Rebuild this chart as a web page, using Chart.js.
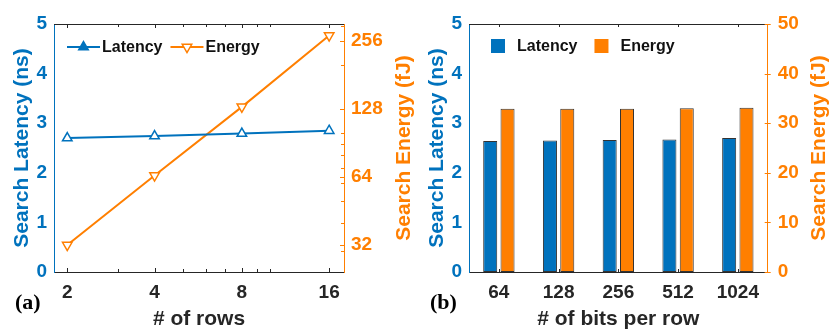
<!DOCTYPE html>
<html><head><meta charset="utf-8">
<script src="https://cdn.jsdelivr.net/npm/chart.js@4.4.1/dist/chart.umd.min.js"></script>
<style>html,body{margin:0;padding:0;background:#fff;} #wrap{display:flex;width:830px;height:332px;} canvas{display:block;}</style>
</head><body><div id="wrap"><canvas id="ca" width="415" height="332"></canvas><canvas id="cb" width="415" height="332"></canvas></div>
<script>
// ---- data ----
const rows = [2, 4, 8, 16];
const rowLatency = [2.70, 2.74, 2.79, 2.85];
const rowEnergy = [32, 65, 131, 271];
const rowMinorTicks = [3, 5, 6, 7, 9, 10];
const energyLogTicks = [32, 64, 128, 256];
const energyLogMinor = [30, 40, 50, 60, 70, 80, 90, 100, 200, 300];
const bits = ['64', '128', '256', '512', '1024'];
const bitLatency = [2.64, 2.65, 2.66, 2.67, 2.70];
const bitEnergy = [32.9, 32.9, 32.9, 33.0, 33.1];
const energyLinTicks = [0, 10, 20, 30, 40, 50];

// ---- style ----
const BLUE = '#0072BD', ORANGE = '#FF7F00', DARK = '#262626';
const SANS = '"Liberation Sans", Arial, sans-serif';
const tickFont = {family: SANS, size: 19, weight: 'bold'};
const titleFont = {family: SANS, size: 21, weight: 'bold'};

function seg(ctx, x1, y1, x2, y2) { ctx.beginPath(); ctx.moveTo(x1, y1); ctx.lineTo(x2, y2); ctx.stroke(); }
function tri(ctx, x, y, r, down, fill, stroke) {
  const s = down ? -1 : 1, k = Math.sin(Math.PI / 3) * r;
  ctx.beginPath();
  ctx.moveTo(x, y - s * r); ctx.lineTo(x + k, y + s * r / 2); ctx.lineTo(x - k, y + s * r / 2); ctx.closePath();
  ctx.fillStyle = fill; ctx.fill(); ctx.lineWidth = 1.5; ctx.strokeStyle = stroke; ctx.stroke();
}

function decorPlugin(cfg) {
  return {
    id: 'decor' + cfg.tag,
    afterDraw(chart) {
      const ctx = chart.ctx, a = chart.chartArea, xs = chart.scales.x, y2 = chart.scales.y2;
      ctx.save();
      // top frame line
      ctx.lineWidth = 1; ctx.strokeStyle = DARK;
      seg(ctx, a.left, Math.round(a.top) + 0.5, a.right, Math.round(a.top) + 0.5);
      // x ticks on top and bottom
      cfg.xTicks(xs).forEach(p => {
        const px = Math.round(p.px) + 0.5;
        seg(ctx, px, a.top, px, a.top + p.len);
        seg(ctx, px, a.bottom, px, a.bottom - p.len);
      });
      // right axis ticks
      ctx.strokeStyle = ORANGE;
      cfg.y2Ticks(y2).forEach(p => {
        const py = Math.round(p.py) + 0.5;
        seg(ctx, a.right + p.out, py, a.right - p.len, py);
      });
      // right axis title (reads bottom to top)
      ctx.save();
      ctx.translate(y2.right - 11, (a.top + a.bottom) / 2);
      ctx.rotate(-Math.PI / 2);
      ctx.font = 'bold 21px ' + SANS; ctx.fillStyle = ORANGE;
      ctx.textAlign = 'center'; ctx.textBaseline = 'middle';
      ctx.fillText(cfg.y2Title, 0, 0);
      ctx.restore();
      // panel label
      ctx.font = 'bold 22px "Liberation Serif", "Times New Roman", serif';
      ctx.fillStyle = '#000'; ctx.textAlign = 'left'; ctx.textBaseline = 'middle';
      ctx.fillText(cfg.panel, 15, 303);
      // legend
      ctx.font = 'bold 16px ' + SANS; ctx.textBaseline = 'middle';
      let x = a.left + cfg.legendStart;
      const y = a.top + cfg.legendDy;
      chart.data.datasets.forEach((ds, i) => {
        if (cfg.legendKind === 'line') {
          ctx.strokeStyle = ds.borderColor; ctx.lineWidth = 2;
          seg(ctx, x, y, x + 33, y);
          tri(ctx, x + 16.5, y, 5.5, i === 1, i === 1 ? '#fff' : ds.borderColor, ds.borderColor);
          ctx.fillStyle = '#111';
          ctx.fillText(ds.label, x + 35, y + 1);
          x += 35 + ctx.measureText(ds.label).width + 8;
        } else {
          ctx.fillStyle = ds.backgroundColor;
          ctx.fillRect(x, y - 7, 14, 14);
          ctx.fillStyle = '#111';
          ctx.fillText(ds.label, x + 26, y + 1);
          x += 26 + ctx.measureText(ds.label).width + 17;
        }
      });
      ctx.restore();
    }
  };
}

const common = {
  responsive: false, animation: false, devicePixelRatio: 1,
  layout: {autoPadding: false, padding: {top: 24, left: 0, right: 0, bottom: 0}},
  plugins: {legend: {display: false}, tooltip: {enabled: false}, title: {display: false}}
};

// ---- chart (a) ----
new Chart(document.getElementById('ca'), {
  type: 'line',
  data: {
    datasets: [
      {label: 'Latency', data: rows.map((r, i) => ({x: r, y: rowLatency[i]})), yAxisID: 'y',
       borderColor: BLUE, borderWidth: 2, pointStyle: 'triangle', pointRadius: 5.5, pointBorderWidth: 1.5,
       pointBackgroundColor: '#fff', pointBorderColor: BLUE, backgroundColor: BLUE},
      {label: 'Energy', data: rows.map((r, i) => ({x: r, y: rowEnergy[i]})), yAxisID: 'y2',
       borderColor: ORANGE, borderWidth: 2, pointStyle: 'triangle', pointRotation: 180, pointRadius: 5.5, pointBorderWidth: 1.5,
       pointBackgroundColor: '#fff', pointBorderColor: ORANGE, backgroundColor: ORANGE}
    ]
  },
  options: Object.assign({}, common, {
    scales: {
      x: {type: 'logarithmic', position: 'bottom', min: 1.8, max: 18,
          afterBuildTicks: s => { s.ticks = rows.map(v => ({value: v})); },
          ticks: {font: tickFont, color: DARK, padding: 9, autoSkip: false, maxRotation: 0, callback: v => String(v)},
          grid: {display: false, drawTicks: false}, border: {display: true, color: DARK, width: 1},
          title: {display: true, text: '# of rows', font: titleFont, color: DARK, padding: {top: 0, bottom: 0}},
          afterFit: s => { s.height = 60; }},
      y: {type: 'linear', position: 'left', min: 0, max: 5,
          ticks: {stepSize: 1, font: tickFont, color: BLUE, padding: 7},
          grid: {display: false, drawTicks: false}, border: {display: true, color: BLUE, width: 1},
          title: {display: true, text: 'Search Latency (ns)', font: titleFont, color: BLUE, padding: {top: 10, bottom: 0}},
          afterFit: s => { s.width = 54; }},
      y2: {type: 'logarithmic', position: 'right', min: 24.3, max: 305,
          afterBuildTicks: s => { s.ticks = energyLogTicks.map(v => ({value: v})); },
          ticks: {font: tickFont, color: ORANGE, padding: 7, autoSkip: false, callback: v => String(v)},
          grid: {display: false, drawTicks: false}, border: {display: true, color: ORANGE, width: 1},
          afterFit: s => { s.width = 71; }}
    }
  }),
  plugins: [decorPlugin({
    tag: 'a', panel: '(a)', y2Title: 'Search Energy (fJ)', legendKind: 'line', legendStart: 13, legendDy: 23,
    xTicks: xs => rows.map(v => ({px: xs.getPixelForValue(v), len: 4}))
                  .concat(rowMinorTicks.map(v => ({px: xs.getPixelForValue(v), len: 3}))),
    y2Ticks: ys => energyLogTicks.map(v => ({py: ys.getPixelForValue(v), len: 4, out: 0}))
                  .concat(energyLogMinor.map(v => ({py: ys.getPixelForValue(v), len: 3, out: 0})))
  })]
});

// ---- chart (b) ----
new Chart(document.getElementById('cb'), {
  type: 'bar',
  data: {
    labels: bits,
    datasets: [
      {label: 'Latency', data: bitLatency, yAxisID: 'y', backgroundColor: BLUE, borderColor: '#333333',
       borderWidth: 1, borderSkipped: false, categoryPercentage: 0.58, barPercentage: 0.81},
      {label: 'Energy', data: bitEnergy, yAxisID: 'y2', backgroundColor: ORANGE, borderColor: '#333333',
       borderWidth: 1, borderSkipped: false, categoryPercentage: 0.58, barPercentage: 0.81}
    ]
  },
  options: Object.assign({}, common, {
    scales: {
      x: {type: 'category', position: 'bottom',
          ticks: {font: tickFont, color: DARK, padding: 9, autoSkip: false, maxRotation: 0},
          grid: {display: false, drawTicks: false}, border: {display: true, color: DARK, width: 1},
          title: {display: true, text: '# of bits per row', font: titleFont, color: DARK, padding: {top: 0, bottom: 0}},
          afterFit: s => { s.height = 60; }},
      y: {type: 'linear', position: 'left', min: 0, max: 5,
          ticks: {stepSize: 1, font: tickFont, color: BLUE, padding: 7},
          grid: {display: false, drawTicks: false}, border: {display: true, color: BLUE, width: 1},
          title: {display: true, text: 'Search Latency (ns)', font: titleFont, color: BLUE, padding: {top: 10, bottom: 0}},
          afterFit: s => { s.width = 54; }},
      y2: {type: 'linear', position: 'right', min: 0, max: 50,
          ticks: {stepSize: 10, font: tickFont, color: ORANGE, padding: 10},
          grid: {display: false, drawTicks: false}, border: {display: true, color: ORANGE, width: 1},
          afterFit: s => { s.width = 62.3; }}
    }
  }),
  plugins: [decorPlugin({
    tag: 'b', panel: '(b)', y2Title: 'Search Energy (fJ)', legendKind: 'box', legendStart: 22, legendDy: 22,
    xTicks: xs => bits.map((b, i) => ({px: xs.getPixelForValue(i), len: 3})),
    y2Ticks: ys => energyLinTicks.map(v => ({py: ys.getPixelForValue(v), len: 3, out: 3}))
  })]
});
</script>
</body></html>
